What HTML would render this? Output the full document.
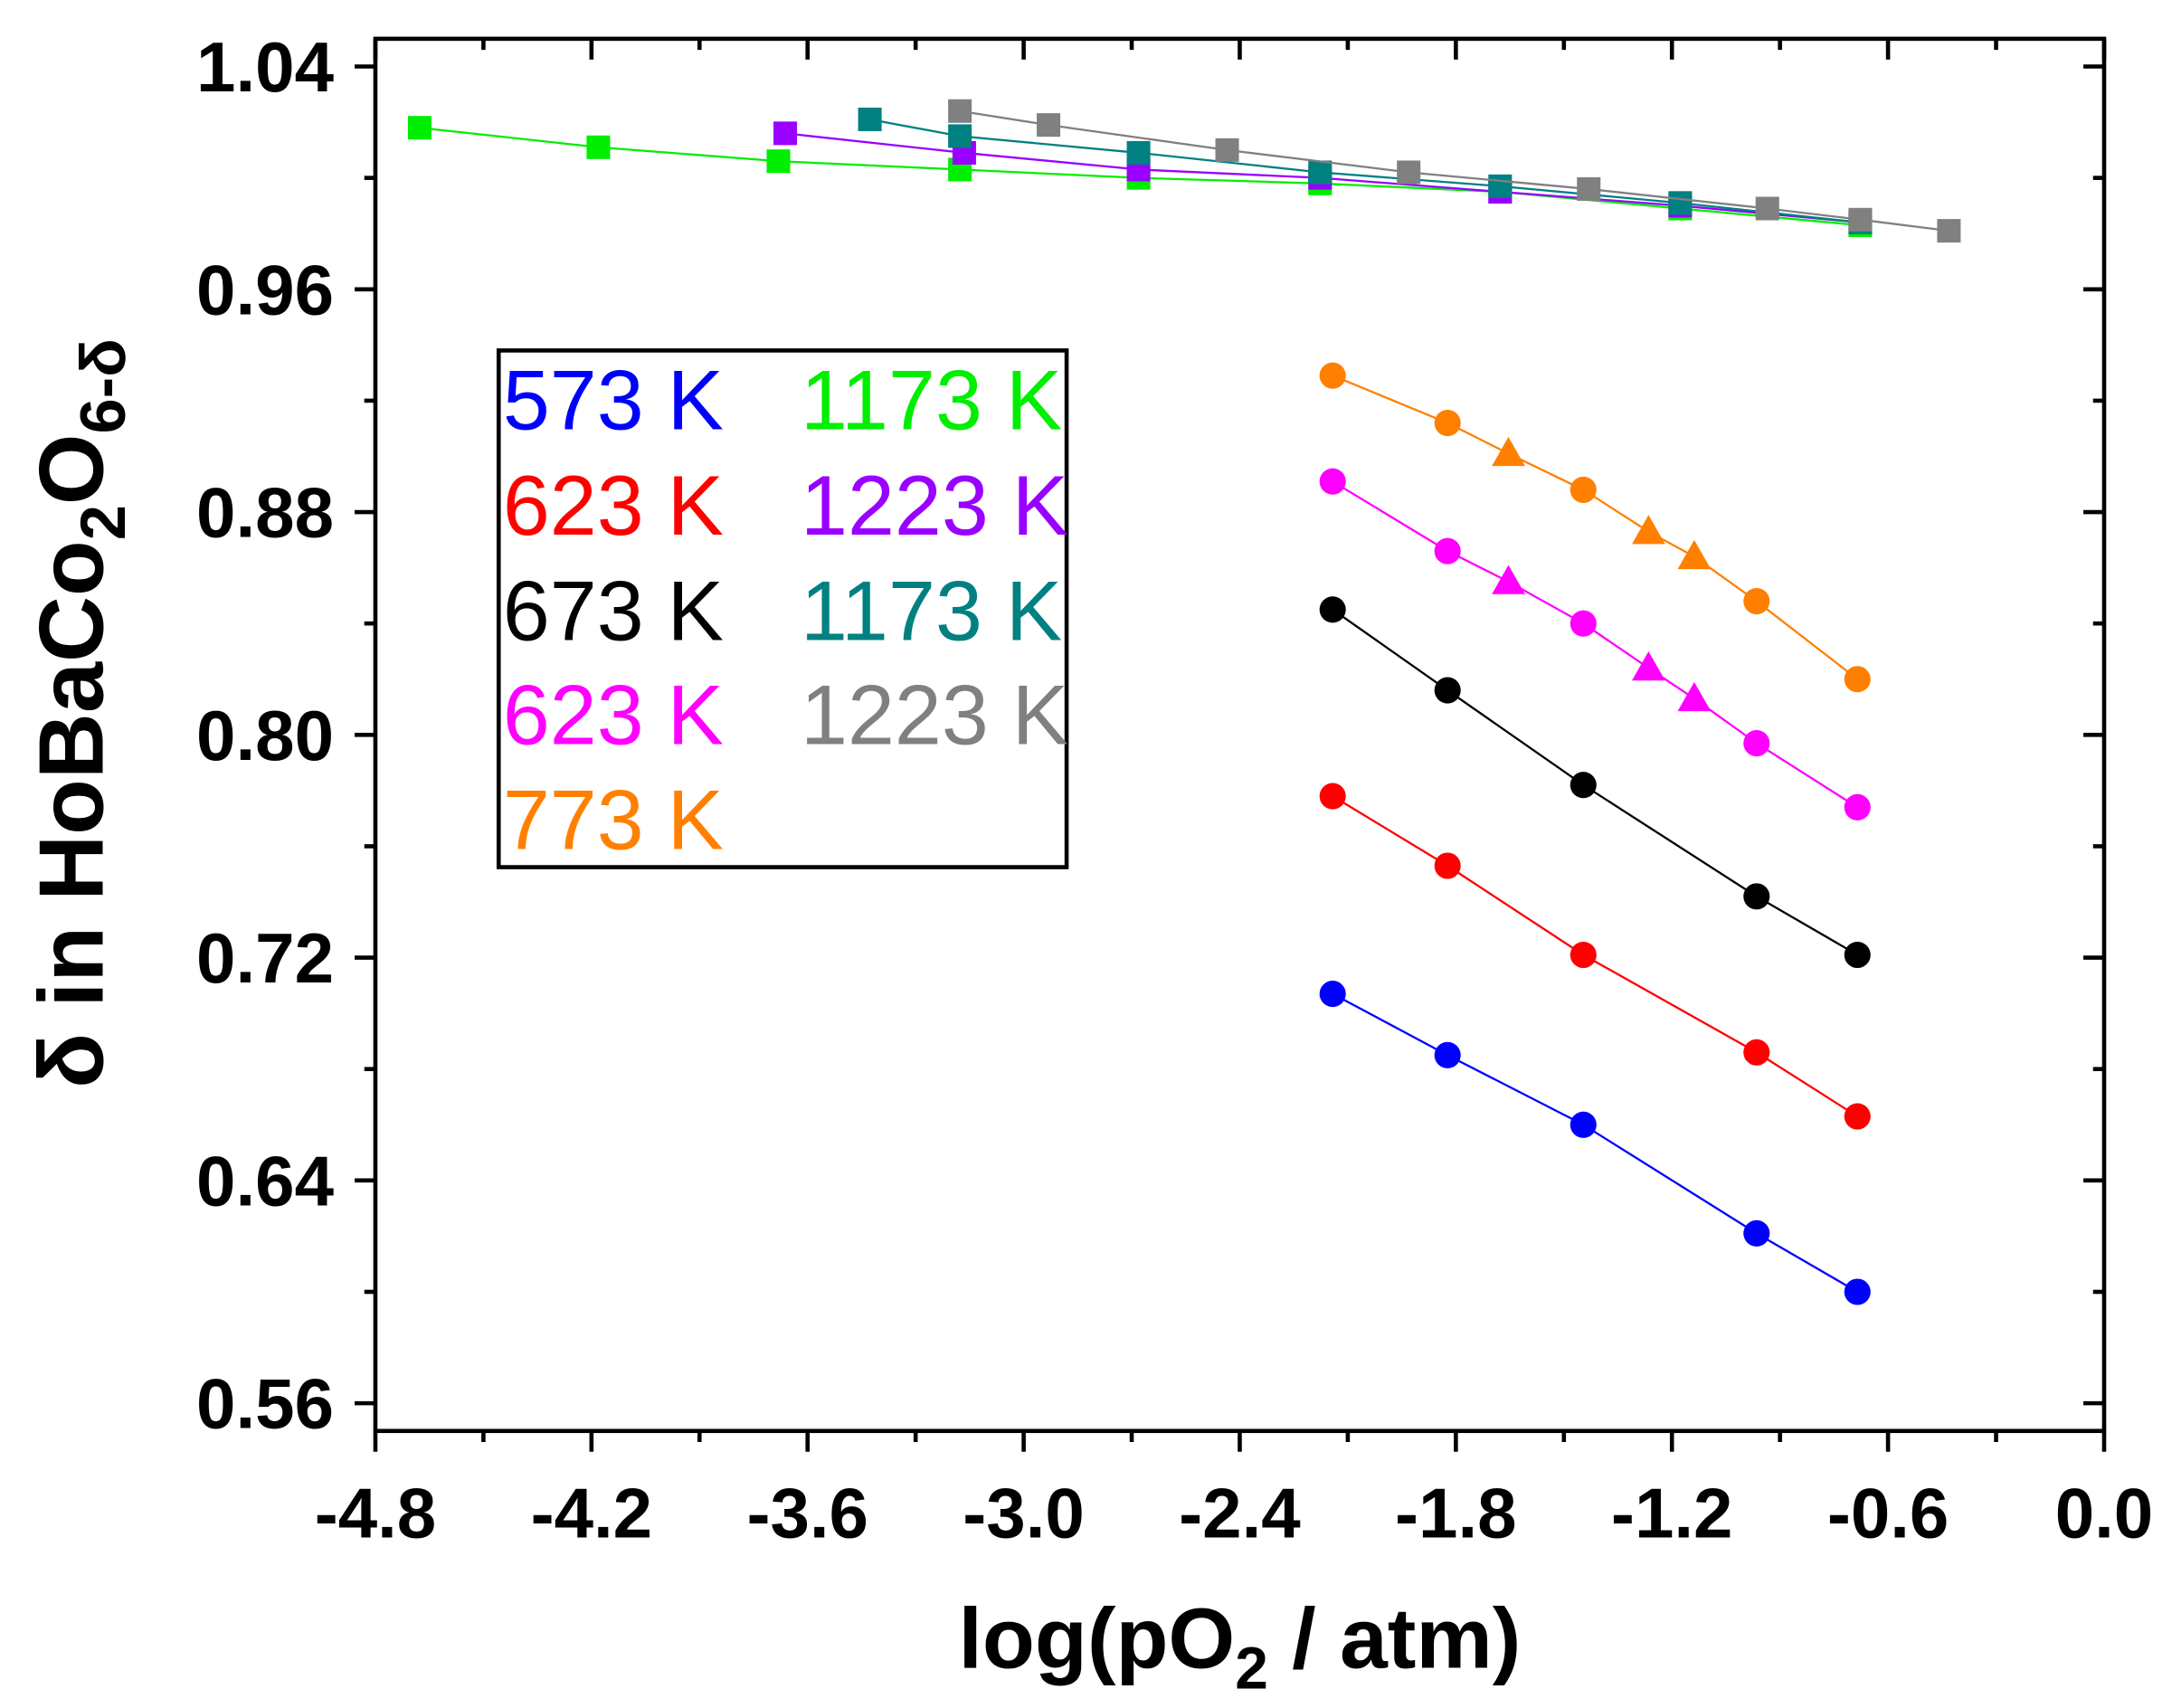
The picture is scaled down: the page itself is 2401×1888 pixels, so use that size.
<!DOCTYPE html>
<html><head><meta charset="utf-8"><style>html,body{margin:0;padding:0;background:#fff}svg{display:block}</style></head>
<body>
<svg id="chart" width="2401" height="1888" viewBox="0 0 1568 1233" preserveAspectRatio="none" xmlns="http://www.w3.org/2000/svg" font-family="Liberation Sans, Arial, sans-serif">
<g id="grid"></g>
<g id="series"></g>
<g font-size="61">
<rect x="360" y="253" width="410" height="373" fill="#fff" stroke="#000" stroke-width="3"/>
<text x="363" y="310" fill="#0000ff">573 K</text>
<text x="363" y="386" fill="#ff0000">623 K</text>
<text x="363" y="462" fill="#000000">673 K</text>
<text x="363" y="537" fill="#ff00ff">623 K</text>
<text x="363" y="613" fill="#ff8000">773 K</text>
<text x="578" y="310" fill="#00ee00">1173 K</text>
<text x="578" y="386" fill="#9900ff">1223 K</text>
<text x="578" y="462" fill="#008080">1173 K</text>
<text x="578" y="537" fill="#808080">1223 K</text>
</g>
<text x="895" y="1204" font-size="62" font-weight="bold" text-anchor="middle">log(pO<tspan font-size="43" dy="15">2</tspan><tspan dy="-15"> / atm)</tspan></text>
<text transform="translate(74,515) rotate(-90)" font-size="66" font-weight="bold" text-anchor="middle">δ in HoBaCo<tspan font-size="46" dy="16">2</tspan><tspan dy="-16">O</tspan><tspan font-size="46" dy="16">6-δ</tspan></text>
</svg>
<script>
const xTicks=[-4.8,-4.2,-3.6,-3.0,-2.4,-1.8,-1.2,-0.6,0.0];
const xTickLabels=["-4.8","-4.2","-3.6","-3.0","-2.4","-1.8","-1.2","-0.6","0.0"];
const yTicks=[0.56,0.64,0.72,0.80,0.88,0.96,1.04];
const yTickLabels=["0.56","0.64","0.72","0.80","0.88","0.96","1.04"];
const xCirc=[-2.142,-1.823,-1.446,-0.965,-0.685];
const blueY=[0.707,0.685,0.660,0.621,0.600];
const redY=[0.778,0.753,0.721,0.686,0.663];
const blackY=[0.845,0.816,0.782,0.742,0.721];
const magentaY=[0.891,0.866,0.840,0.797,0.774];
const orangeY=[0.929,0.912,0.888,0.848,0.820];
const xTri=[-1.654,-1.265,-1.138];
const magentaTriY=[0.855,0.824,0.813];
const orangeTriY=[0.901,0.873,0.864];
const greenX=[-4.677,-4.181,-3.681,-3.177,-2.681,-2.177,-1.677,-1.177,-0.677];
const greenY=[1.018,1.011,1.006,1.003,1.000,0.998,0.995,0.989,0.983];
const purpleX=[-3.662,-3.165,-2.681,-2.177,-1.677,-1.177,-0.677];
const purpleY=[1.016,1.009,1.003,1.000,0.995,0.990,0.984];
const tealX=[-3.427,-3.177,-2.681,-2.177,-1.677,-1.177,-0.677];
const tealY=[1.021,1.015,1.009,1.002,0.997,0.991,0.984];
const grayX=[-3.177,-2.931,-2.435,-1.931,-1.431,-0.935,-0.677,-0.431];
const grayY=[1.024,1.019,1.010,1.002,0.996,0.989,0.985,0.981];

const L=271,R=1519,T=28,B=1033;
const sx=v=>L+(v+4.8)/4.8*(R-L);
const sy=v=>48+(1.04-v)/0.48*(1013-48);
const NS='http://www.w3.org/2000/svg';
function mk(tag,attrs,parent){const e=document.createElementNS(NS,tag);for(const k in attrs)e.setAttribute(k,attrs[k]);parent.appendChild(e);return e;}
const g=document.getElementById('grid');
const frame=mk('rect',{x:L,y:T,width:R-L,height:B-T,fill:'none',stroke:'#000','stroke-width':3},g);


xTicks.forEach((v,i)=>{
  const x=sx(v);
  mk('line',{x1:x,y1:B,x2:x,y2:B+15,stroke:'#000','stroke-width':3},g);
  mk('line',{x1:x,y1:T,x2:x,y2:T+15,stroke:'#000','stroke-width':3},g);
  if(i<xTicks.length-1){const xm=sx(v+0.3);
    mk('line',{x1:xm,y1:B,x2:xm,y2:B+8,stroke:'#000','stroke-width':3},g);
    mk('line',{x1:xm,y1:T,x2:xm,y2:T+8,stroke:'#000','stroke-width':3},g);}
  const t=mk('text',{x:x,y:1110,'font-size':51,'font-weight':'bold','text-anchor':'middle'},g);
  t.textContent=xTickLabels[i];
  
  
});
yTicks.forEach((v,i)=>{
  const y=sy(v);
  mk('line',{x1:L-15,y1:y,x2:L,y2:y,stroke:'#000','stroke-width':3},g);
  mk('line',{x1:R-15,y1:y,x2:R,y2:y,stroke:'#000','stroke-width':3},g);
  if(i<yTicks.length-1){const ym=sy(v+0.04);
    mk('line',{x1:L-8,y1:ym,x2:L,y2:ym,stroke:'#000','stroke-width':3},g);
    mk('line',{x1:R-8,y1:ym,x2:R,y2:ym,stroke:'#000','stroke-width':3},g);}
  const t=mk('text',{x:241,y:y+18,'font-size':51,'font-weight':'bold','text-anchor':'end'},g);
  t.textContent=yTickLabels[i];
  
  
});
const s=document.getElementById('series');
function line(xs,ys,color,name){
  const pts=xs.map((x,i)=>[x,ys[i]]).sort((a,b)=>a[0]-b[0]);
  const p=mk('polyline',{points:pts.map(q=>sx(q[0])+','+sy(q[1])).join(' '),fill:'none',stroke:color,'stroke-width':1.5},s);
  
  
}
function markers(xs,ys,color,shape,name){
  xs.forEach((x,i)=>{
    const cx=sx(x),cy=sy(ys[i]);let e;
    if(shape==='c')e=mk('circle',{cx:cx,cy:cy,r:9.5,fill:color},s);
    else if(shape==='s')e=mk('rect',{x:cx-8.5,y:cy-8.5,width:17,height:17,fill:color},s);
    else e=mk('polygon',{points:`${cx},${cy-12} ${cx-12},${cy+9} ${cx+12},${cy+9}`,fill:color},s);
    
    
  });
}
line(greenX,greenY,'#00ee00','green-1173k');markers(greenX,greenY,'#00ee00','s','green-1173k');
line(purpleX,purpleY,'#9900ff','purple-1223k');markers(purpleX,purpleY,'#9900ff','s','purple-1223k');
line(tealX,tealY,'#008080','teal-1173k');markers(tealX,tealY,'#008080','s','teal-1173k');
line(grayX,grayY,'#808080','gray-1223k');markers(grayX,grayY,'#808080','s','gray-1223k');
[[blueY,'#0000ff','blue-573k'],[redY,'#ff0000','red-623k'],[blackY,'#000000','black-673k']].forEach(a=>{line(xCirc,a[0],a[1],a[2]);markers(xCirc,a[0],a[1],'c',a[2]);});
line(xCirc.concat(xTri),magentaY.concat(magentaTriY),'#ff00ff','magenta-623k');
markers(xCirc,magentaY,'#ff00ff','c','magenta-623k');markers(xTri,magentaTriY,'#ff00ff','t','magenta-623k-tri');
line(xCirc.concat(xTri),orangeY.concat(orangeTriY),'#ff8000','orange-773k');
markers(xCirc,orangeY,'#ff8000','c','orange-773k');markers(xTri,orangeTriY,'#ff8000','t','orange-773k-tri');
</script>
</body></html>
